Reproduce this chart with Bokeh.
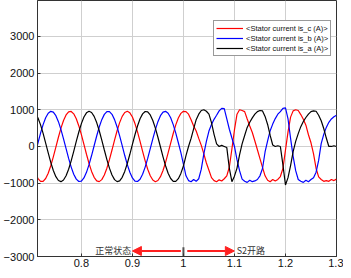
from bokeh.plotting import figure
from bokeh.models import (Range1d, FixedTicker, CustomJSTickFormatter, Label, Arrow,
                          NormalHead, ColumnDataSource)
from bokeh.embed import file_html
from bokeh.resources import INLINE

# ---------------- data ----------------
t_start = 0.710
t_step = 0.005

# phase c (red)
is_c = [
    -734, -877, -951, -950, -874, -729, -526, -282, -16, 252,
    499, 707, 860, 945, 955, 890, 754, 560, 321, 56,
    -212, -464, -680, -841, -937, -958, -904, -779, -592, -359,
    -97, 172, 428, 650, 821, 927, 960, 917, 802, 624,
    396, 137, -132, -391, -620, -799, -916, -960, -928, -824,
    -654, -433, -177, 92, 354, 588, 776, 902, 958,
    950, 880, 730, 560, 420, 220, 30, -200, -450, -650,
    -850, -930, -960, -910, -940, -880, -800, -560, -70, 450,
    880, 1000, 980, 950, 750, 560, 380, 150, -90, -330,
    -570, -800, -920, -960, -900, -940, -900, -820, -600, -100,
    400, 800, 970, 1000, 980, 870, 740, 580, 320, 100,
    -200, -600, -830, -900, -950, -930, -950, -900, -930, -890,
]

# phase b (blue)
is_b = [
    -168, 101, 363, 595, 781, 906, 958, 936, 839, 676,
    460, 208, -61, -325, -563, -757, -891, -955, -944, -858,
    -705, -496, -247, 20, 286, 530, 731, 875, 950, 950,
    876, 732, 530, 287, 21, -247, -495, -704, -858, -944,
    -955, -892, -757, -563, -325, -61, 208, 460, 676, 839,
    936, 958, 906, 782, 596, 363, 102, -168, -480,
    -800, -930, -960, -900, -950, -880, -620, -200, 140, 420,
    600, 740, 850, 970, 1040, 1030, 750, 470, 230, 0,
    -360, -660, -890, -950, -980, -920, -960, -940, -900, -800,
    -600, -150, 150, 430, 610, 760, 880, 950, 1040, 1050,
    750, 220, -270, -660, -900, -950, -980, -920, -960, -900,
    -850, -700, -380, 80, 330, 520, 660, 750, 810, 850,
]

# phase a (black)
is_a = [
    902, 776, 588, 355, 93, -177, -432, -654, -823, -928,
    -959, -915, -799, -620, -392, -133, 137, 395, 623, 802,
    917, 960, 927, 821, 651, 428, 173, -96, -358, -591,
    -779, -904, -958, -937, -842, -680, -465, -213, 56, 320,
    559, 755, 889, 954, 945, 860, 708, 500, 252, -15,
    -282, -525, -729, -874, -950, -951, -878, -734, -534,
    -250, 0, 220, 480, 730, 880, 980, 1000, 960, 880,
    650, 330, 70, 0, 30, 0, -30, -600, -960, -810,
    -590, -230, 70, 300, 520, 660, 780, 880, 950, 980,
    970, 820, 600, 300, 40, 0, 20, 0, -500, -1050,
    -850, -520, -140, 140, 350, 540, 680, 790, 880, 950,
    970, 960, 850, 700, 490, 230, 0, 0, 20, 0,
]

time = [round(t_start + i * t_step, 3) for i in range(len(is_a))]

series_names = ["<Stator current is_c (A)>", "<Stator current is_b (A)>",
                "<Stator current is_a (A)>"]
series_colors = ["#ff0000", "#0000ff", "#000000"]

x_ticks = [0.8, 0.9, 1.0, 1.1, 1.2, 1.3]
y_ticks = [-3000, -2000, -1000, 0, 1000, 2000, 3000]

note_left = "正常状态"
note_right = "S2开路"

# ---------------- figure ----------------
p = figure(width=343, height=270, output_backend="svg", toolbar_location=None,
           x_range=Range1d(0.714, 1.3), y_range=Range1d(-3000, 3980))
p.min_border_left = 33
p.min_border_right = 7
p.min_border_top = 0
p.min_border_bottom = 14
p.background_fill_color = "white"
p.border_fill_color = "white"
p.outline_line_color = "#333333"
p.outline_line_width = 1

src = ColumnDataSource(dict(t=time, c=is_c, b=is_b, a=is_a))
for col, name, color in zip(["c", "b", "a"], series_names, series_colors):
    p.line("t", col, source=src, line_color=color, line_width=1.2, legend_label=name)

# axes
for ax in (p.xaxis[0], p.yaxis[0]):
    ax.axis_line_color = "#333333"
    ax.major_tick_line_color = "#333333"
    ax.major_tick_in = 3
    ax.major_tick_out = 0
    ax.minor_tick_line_color = None
    ax.major_label_text_font = "Liberation Sans"
    ax.major_label_text_color = "#111111"
    ax.major_label_text_font_size = "11px"
p.xaxis[0].major_label_standoff = 2
p.yaxis[0].major_label_standoff = 3
p.xaxis[0].ticker = FixedTicker(ticks=x_ticks)
p.yaxis[0].ticker = FixedTicker(ticks=y_ticks)
p.xaxis[0].formatter = CustomJSTickFormatter(
    code="return Number(tick.toFixed(1)).toString();")

p.xgrid.ticker = FixedTicker(ticks=x_ticks)
p.ygrid.ticker = FixedTicker(ticks=y_ticks)
p.grid.grid_line_color = "#cfcfcf"
p.grid.grid_line_width = 1

# legend
lg = p.legend[0]
lg.location = (176, 200)
lg.label_text_font = "Liberation Sans"
lg.label_text_font_size = "7.5px"
lg.label_text_color = "#111111"
lg.label_height = 10
lg.glyph_height = 10
lg.glyph_width = 27
lg.label_standoff = 3
lg.padding = 2
lg.spacing = 0
lg.margin = 0
lg.border_line_color = "#333333"
lg.border_line_width = 1
lg.background_fill_alpha = 1.0

# annotations
ann_y = -2850
left_arrow_x = (0.995, 0.900)
right_arrow_x = (1.0075, 1.0998)
marker_x = 1.0
marker_y = (-2990, -2750)
left_text_x = 0.8975
right_text_x = 1.1045

head_color = "#ff2020"
p.add_layout(Arrow(end=NormalHead(size=9, fill_color=head_color, line_color=head_color),
                   x_start=left_arrow_x[0], y_start=ann_y,
                   x_end=left_arrow_x[1], y_end=ann_y,
                   line_color=head_color, line_width=2))
p.add_layout(Arrow(end=NormalHead(size=9, fill_color=head_color, line_color=head_color),
                   x_start=right_arrow_x[0], y_start=ann_y,
                   x_end=right_arrow_x[1], y_end=ann_y,
                   line_color=head_color, line_width=2))
p.segment(x0=[marker_x], y0=[marker_y[0]], x1=[marker_x], y1=[marker_y[1]],
          line_color="#555555", line_width=2)
p.add_layout(Label(x=left_text_x, y=ann_y, text=note_left, text_align="right",
                   text_baseline="middle", text_font="Noto Sans CJK SC",
                   text_font_size="9px", text_color="#333333"))
p.add_layout(Label(x=right_text_x, y=ann_y, text=note_right, text_align="left",
                   text_baseline="middle", text_font="Noto Sans CJK SC",
                   text_font_size="9px", text_color="#333333"))

open("out.html", "w").write(file_html(p, INLINE))
